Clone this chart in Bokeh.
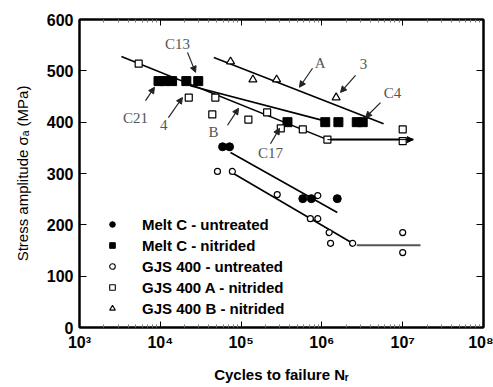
from bokeh.plotting import figure
from bokeh.models import (Range1d, LinearAxis, LogAxis, FixedTicker, Legend, LegendItem,
                          Arrow, NormalHead, ColumnDataSource, CustomJSTickFormatter)
from bokeh.core.properties import value
from bokeh.embed import file_html
from bokeh.resources import INLINE

# ---------------- data ----------------
meltc_untr_N = [5.9e4, 7.2e4, 5.8e5, 7.4e5, 1.55e6]
meltc_untr_S = [352, 352, 251, 251, 251]

meltc_nitr_N = [9.5e3, 1.12e4, 1.4e4, 2.1e4, 2.95e4, 3.75e5, 1.1e6, 1.6e6, 2.7e6, 3.2e6]
meltc_nitr_S = [480, 480, 480, 480, 480, 400, 400, 400, 400, 400]

gjs_untr_N = [5.1e4, 7.8e4, 2.8e5, 8.9e5, 7.2e5, 8.9e5, 1.23e6, 1.28e6, 2.4e6, 1e7, 1e7]
gjs_untr_S = [304, 304, 259, 257, 212, 212, 185, 164, 164, 185, 146]

gjsA_N = [5.4e3, 2.25e4, 4.8e4, 4.4e4, 1.23e5, 2.1e5, 3.1e5, 5.8e5, 1.17e6, 1e7, 1e7]
gjsA_S = [514, 448, 448, 415, 405, 419, 388, 386, 366, 386, 363]

gjsB_N = [7.4e4, 1.4e5, 2.75e5, 1.5e6]
gjsB_S = [518, 483, 483, 448]

# fitted lines / run-out lines
fit_B_N = [4.6e4, 5.8e6]
fit_B_S = [526, 397]
fit_meltc_nitr_N = [2.35e4, 1.05e6]
fit_meltc_nitr_S = [471, 403]
fit_A_N = [3.3e3, 1.17e6]
fit_A_S = [528, 366]
runout_up_N = [1.17e6, 1.35e7]
runout_up_S = [366, 366]
fit_meltc_untr_N = [7.4e4, 1.55e6]
fit_meltc_untr_S = [341, 224]
fit_gjs_untr_N = [8.05e4, 2.4e6]
fit_gjs_untr_S = [300, 164]
runout_low_N = [2.7e6, 1.66e7]
runout_low_S = [160, 160]

# annotations
ann_text = ["C13", "C21", "4", "B", "A", "3", "C4", "C17"]
ann_N = [1.63e4, 4.93e3, 1.10e4, 4.55e4, 9.55e5, 3.27e6, 7.48e6, 2.31e5]
ann_S = [553, 409, 394, 380, 516, 514, 456, 339]
arr_N0 = [2.17e4, 6.56e3, 1.26e4, 6.79e4, 7.66e5, 2.61e6, 5.31e6, 2.31e5]
arr_S0 = [536, 442, 409, 394, 505, 491, 438, 358]
arr_N1 = [2.73e4, 8.47e3, 1.88e4, 9.29e4, 5.28e5, 1.70e6, 3.47e6, 2.99e5]
arr_S1 = [497, 468, 448, 427, 468, 458, 409, 388]

legend_labels = ["Melt C - untreated", "Melt C - nitrided", "GJS 400 - untreated",
                 "GJS 400 A - nitrided", "GJS 400 B - nitrided"]

x_ticks = [1e3, 1e4, 1e5, 1e6, 1e7, 1e8]
x_minor = [m * d for d in [1e3, 1e4, 1e5, 1e6, 1e7] for m in range(2, 10)]
y_ticks = [0, 100, 200, 300, 400, 500, 600]

# ---------------- figure ----------------
p = figure(width=493, height=387, x_axis_type="log",
           x_range=Range1d(1e3, 1e8), y_range=Range1d(0, 600),
           output_backend="svg", toolbar_location=None,
           min_border_left=79, min_border_right=10, min_border_top=19, min_border_bottom=60)
p.grid.visible = False
p.outline_line_color = "black"
p.outline_line_width = 2
p.background_fill_color = "white"

FONT = "Liberation Sans"

sup_code = """
const sup = ['\u2070','\u00b9','\u00b2','\u00b3','\u2074','\u2075','\u2076','\u2077','\u2078','\u2079'];
const e = Math.round(Math.log10(tick));
return '10' + String(e).split('').map(d => sup[parseInt(d)]).join('');
"""

xa = p.xaxis[0]
xa.ticker = FixedTicker(ticks=x_ticks, minor_ticks=x_minor)
xa.formatter = CustomJSTickFormatter(code=sup_code)
xa.major_tick_in = 6
xa.major_tick_out = 0
xa.minor_tick_in = 3
xa.minor_tick_out = 0
xa.minor_tick_line_color = "#777777"
xa.axis_line_width = 2
xa.major_label_standoff = 6
xa.major_label_text_font = FONT
xa.major_label_text_font_size = "16px"
xa.major_label_text_font_style = "bold"
xa.major_label_text_color = "black"
xa.axis_label = "Cycles to failure N\u1d63"
xa.axis_label_text_font = FONT
xa.axis_label_text_font_size = "15px"
xa.axis_label_text_font_style = "bold"
xa.axis_label_text_color = "black"
xa.axis_label_standoff = 12

ya = p.yaxis[0]
ya.ticker = FixedTicker(ticks=y_ticks, minor_ticks=[])
ya.major_tick_in = 7
ya.major_tick_out = 0
ya.minor_tick_in = 0
ya.minor_tick_out = 0
ya.axis_line_width = 2
ya.major_label_standoff = 6
ya.major_label_text_font = FONT
ya.major_label_text_font_size = "16px"
ya.major_label_text_font_style = "bold"
ya.major_label_text_color = "black"
ya.axis_label = "Stress amplitude \u03c3\u2090 (MPa)"
ya.axis_label_text_font = FONT
ya.axis_label_text_font_size = "15px"
ya.axis_label_text_font_style = "normal"
ya.axis_label_text_color = "black"
ya.axis_label_standoff = 13

top = LogAxis(ticker=FixedTicker(ticks=x_ticks, minor_ticks=x_minor),
              major_label_text_color=None, major_label_text_font_size="8px", major_label_standoff=0,
              major_tick_in=6, major_tick_out=0, minor_tick_in=3, minor_tick_out=0,
              minor_tick_line_color="#777777", axis_line_width=2)
p.add_layout(top, "above")
right = LinearAxis(ticker=FixedTicker(ticks=y_ticks, minor_ticks=[]),
                   major_label_text_color=None, major_label_text_font_size="8px", major_label_standoff=0,
                   major_tick_in=7, major_tick_out=0, minor_tick_in=0, minor_tick_out=0,
                   axis_line_width=2)
p.add_layout(right, "right")

# ---------------- lines ----------------
LW = 1.6
p.line(fit_B_N, fit_B_S, line_color="black", line_width=LW)
p.line(fit_meltc_nitr_N, fit_meltc_nitr_S, line_color="black", line_width=LW)
p.line(fit_A_N, fit_A_S, line_color="black", line_width=LW)
p.line(runout_up_N, runout_up_S, line_color="black", line_width=2)
p.line(fit_meltc_untr_N, fit_meltc_untr_S, line_color="black", line_width=LW)
p.line(fit_gjs_untr_N, fit_gjs_untr_S, line_color="black", line_width=LW)
p.line(runout_low_N, runout_low_S, line_color="#555555", line_width=2)
p.add_layout(Arrow(end=NormalHead(size=6, fill_color="black", line_color="black"),
                   x_start=runout_up_N[0], y_start=runout_up_S[0],
                   x_end=runout_up_N[1], y_end=runout_up_S[1], line_width=1, line_color="black"))

# ---------------- markers ----------------
p.scatter(meltc_untr_N, meltc_untr_S, marker="circle", size=8, fill_color="black", line_color="black")
p.scatter(meltc_nitr_N, meltc_nitr_S, marker="square", size=9, fill_color="black", line_color="black")
p.scatter(gjs_untr_N, gjs_untr_S, marker="circle", size=6, fill_color="white", line_color="black", line_width=1.2)
p.scatter(gjsA_N, gjsA_S, marker="square", size=7, fill_color="white", line_color="black", line_width=1.2)
p.scatter(gjsB_N, gjsB_S, marker="triangle", size=8, fill_color="white", line_color="black", line_width=1.2)

# ---------------- annotations ----------------
asrc = ColumnDataSource(dict(x0=arr_N0, y0=arr_S0, x1=arr_N1, y1=arr_S1))
p.add_layout(Arrow(source=asrc, x_start="x0", y_start="y0", x_end="x1", y_end="y1",
                   line_color="#222222", line_width=1.2,
                   end=NormalHead(size=6, fill_color="#222222", line_color="#222222")))
p.text(ann_N, ann_S, text=ann_text, text_font=value("Liberation Serif"), text_font_size="15px",
       text_color="#555555", text_align="center", text_baseline="middle")

# ---------------- legend ----------------
leg_src = ColumnDataSource(dict(x=[1e9], y=[-100]))
e_circ = p.scatter("x", "y", source=leg_src, marker="circle", size=5, fill_color="black", line_color="black")
e_sq = p.scatter("x", "y", source=leg_src, marker="square", size=6, fill_color="black", line_color="black")
e_ocirc = p.scatter("x", "y", source=leg_src, marker="circle", size=5, fill_color="white", line_color="black", line_width=1.1)
e_osq = p.scatter("x", "y", source=leg_src, marker="square", size=7, fill_color="white", line_color="black", line_width=1.1)
e_tri = p.scatter("x", "y", source=leg_src, marker="triangle", size=7, fill_color="white", line_color="black", line_width=1.1)
items = [LegendItem(label=l, renderers=[r]) for l, r in
         zip(legend_labels, [e_circ, e_sq, e_ocirc, e_osq, e_tri])]
leg = Legend(items=items, location=(26, 9), border_line_color=None, background_fill_alpha=0,
             padding=0, margin=0, spacing=1, glyph_height=14, glyph_width=14,
             label_height=20, label_standoff=23, label_text_font=FONT,
             label_text_font_size="15px", label_text_font_style="bold", label_text_color="black")
p.add_layout(leg)

open("out.html", "w").write(file_html(p, INLINE))
